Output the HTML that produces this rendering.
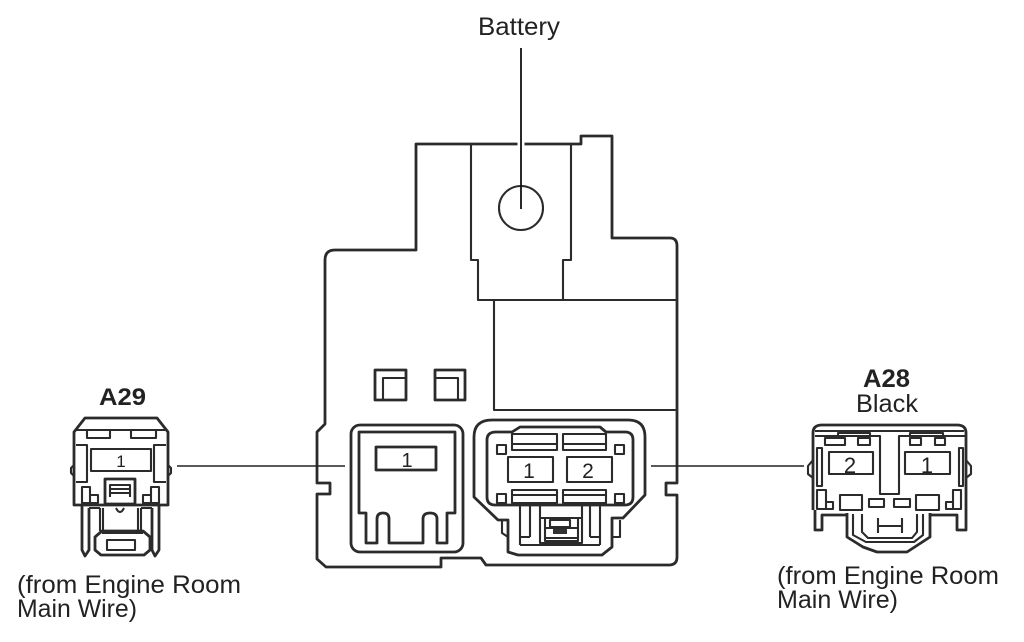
<!DOCTYPE html>
<html>
<head>
<meta charset="utf-8">
<style>
html,body{margin:0;padding:0;background:#fff;width:1024px;height:642px;overflow:hidden}
svg{display:block}
text{font-family:"Liberation Sans",sans-serif;fill:#222}
.o{fill:none;stroke:#2b2b2b;stroke-width:2.8;stroke-linejoin:round}
.m{fill:none;stroke:#2b2b2b;stroke-width:2.1;stroke-linejoin:round}
.n{text-anchor:middle}
</style>
</head>
<body>
<svg width="1024" height="642" viewBox="0 0 1024 642" xmlns="http://www.w3.org/2000/svg">
<text x="478" y="35" font-size="25" textLength="82" lengthAdjust="spacingAndGlyphs">Battery</text>
<text x="99" y="405" font-size="24" font-weight="bold" textLength="47" lengthAdjust="spacingAndGlyphs">A29</text>
<text x="863" y="387" font-size="25" font-weight="bold" textLength="47" lengthAdjust="spacingAndGlyphs">A28</text>
<text x="856" y="412" font-size="25" textLength="62" lengthAdjust="spacingAndGlyphs">Black</text>
<text x="17" y="593" font-size="25" textLength="224" lengthAdjust="spacingAndGlyphs">(from Engine Room</text>
<text x="17" y="617" font-size="25" textLength="120" lengthAdjust="spacingAndGlyphs">Main Wire)</text>
<text x="777" y="584" font-size="25" textLength="222" lengthAdjust="spacingAndGlyphs">(from Engine Room</text>
<text x="777" y="608" font-size="25" textLength="121" lengthAdjust="spacingAndGlyphs">Main Wire)</text>

<!-- main housing -->
<path class="o" d="M416 250V144H581V136H612V238H670Q677 238 677 246V483H666V495H677V557Q677 565 669 565H486L481 558H441V567H326L317 559V494H330V483H317V432L325 424V260Q325 250 335 250Z"/>
<path class="m" d="M471 144V260H478V300H677M571 144V260H563V300M494 300V410H677"/>
<circle class="m" cx="521" cy="208" r="22"/>
<line x1="521" y1="138" x2="521" y2="150" stroke="#fff" stroke-width="7"/>
<line x1="521" y1="48" x2="521" y2="209" stroke="#111" stroke-width="1.8"/>
<line x1="177" y1="466" x2="345" y2="466" stroke="#222" stroke-width="1.6"/>
<line x1="651" y1="466" x2="804" y2="466" stroke="#222" stroke-width="1.6"/>

<!-- small squares -->
<path class="o" d="M375 370H406V400H375Z"/><path class="m" d="M383 400V378H406"/>
<path class="o" d="M435 370H465V400H435Z"/><path class="m" d="M435 378H458V400"/>

<!-- centre connector 1 -->
<rect class="o" x="351" y="425" width="112" height="127" rx="9"/>
<path class="o" d="M359 513V432H455V513H447V543H437V519Q437 513 430 513T423 519V543H389V519Q389 513 383 513T377 519V543H366V513Z"/>
<rect class="o" x="376" y="447" width="60" height="23"/>
<text class="n" x="407" y="467" font-size="20">1</text>

<!-- centre connector 2 -->
<path class="o" d="M492 420H628Q645 420 645 437V495L623 518H612V547L602 555H518L508 552V520H498L474 497V437Q474 420 492 420Z"/>
<path class="m" d="M502 520V533L508 537M620 520V537H612"/>
<path class="o" d="M496 432H512L520 427H600L606 432H625Q633 432 633 440V497Q633 505 625 505H495Q487 505 487 497V440Q487 432 496 432Z"/>
<path class="m" d="M512 434H557V450H512ZM563 434H606V450H563ZM512 444H557M563 444H606M512 490H557V503H512ZM563 490H606V503H563ZM512 495H557M563 495H606"/>
<rect class="m" x="497" y="445" width="9" height="9"/><rect class="m" x="615" y="445" width="9" height="9"/>
<rect class="m" x="497" y="494" width="9" height="9"/><rect class="m" x="615" y="494" width="9" height="9"/>
<rect class="m" x="508" y="457" width="45" height="25"/>
<rect class="m" x="567" y="457" width="45" height="25"/>
<text class="n" x="529" y="478" font-size="21">1</text>
<text class="n" x="588" y="478" font-size="21">2</text>
<path class="m" d="M520 505V545M530 505V537M520 537H530M590 505V537M600 505V545M590 537H600M520 545H600"/>
<path class="m" d="M540 505V543H582V505M540 518H582M545 518V541H578V518M545 528H578M545 538H578"/>
<rect class="m" x="550" y="520" width="20" height="7"/>
<rect x="553" y="529" width="14" height="5" fill="#333"/>

<!-- A29 -->
<path class="o" d="M74 432L85 418H157L168 432V505H74Z"/>
<path class="m" d="M76 430H166M87 431V438H110V431M131 431V438H156V431M76 445H87V482H76M166 445H154V482H166"/>
<path class="m" d="M74 465L71 468V473L74 476M168 465L171 468V473L168 476"/>
<rect class="m" x="91" y="449" width="60" height="22"/>
<text class="n" x="121" y="467" font-size="17">1</text>
<rect class="o" x="105" y="479" width="30" height="25"/>
<path class="m" d="M110 497V485H130V497M110 489H130M110 493H130"/>
<path class="m" d="M82 487H90V495H98V503H82ZM159 487H151V495H143V503H159ZM90 495V503M151 495V503"/>
<path class="o" d="M82 505V550L85 556L89 550V508M159 505V550L155 556L152 550V508"/>
<path class="m" d="M89 508H100M152 508H141M103 508V531M138 508V531M100 508V531M141 508V531M116 508Q120 516 124 508"/>
<path class="o" d="M102 531H143L150 537V550L144 555H101L95 550V537Z"/>
<path class="m" d="M102 533H143"/>
<rect class="m" x="107" y="540" width="28" height="10"/>

<!-- A28 -->
<path class="o" d="M813 510V433Q813 425 822 425H957Q966 425 966 433V510"/>
<path class="m" d="M815 431H964M815 436H880V494H899V436H965M838 436V433H870V436M910 436V433H943V436"/>
<path class="m" d="M825 438H845V445H825ZM858 438H870V445H858ZM910 438H921V445H910ZM935 438H945V445H935Z"/>
<path class="m" d="M817 448H822V486H817ZM959 448H963V486H959Z"/>
<path class="m" d="M813 460L808 466V474L813 478M966 460L971 466V474L966 478"/>
<rect class="m" x="829" y="452" width="44" height="22"/>
<rect class="m" x="905" y="452" width="45" height="22"/>
<text class="n" x="850" y="473" font-size="22">2</text>
<text class="n" x="927" y="473" font-size="22">1</text>
<path class="m" d="M817 490H826V509H817ZM826 502H833V509H826ZM953 490H961V509H953ZM946 502H953V509H946Z"/>
<rect class="m" x="840" y="495" width="22" height="15"/>
<rect class="m" x="869" y="499" width="15" height="8"/>
<rect class="m" x="894" y="499" width="16" height="8"/>
<rect class="m" x="916" y="495" width="23" height="15"/>
<path class="o" d="M815 510V530H822V515H847M966 510V530H957V515H930"/>
<path class="o" d="M847 513V537L863 547L877 552H907L930 537V513"/>
<path class="m" d="M853 514V535L866 542H914L923 535V514M862 514V532L868 538H912L917 532V514M878 518V533M902 518V533M878 526H902"/>
</svg>
</body>
</html>
